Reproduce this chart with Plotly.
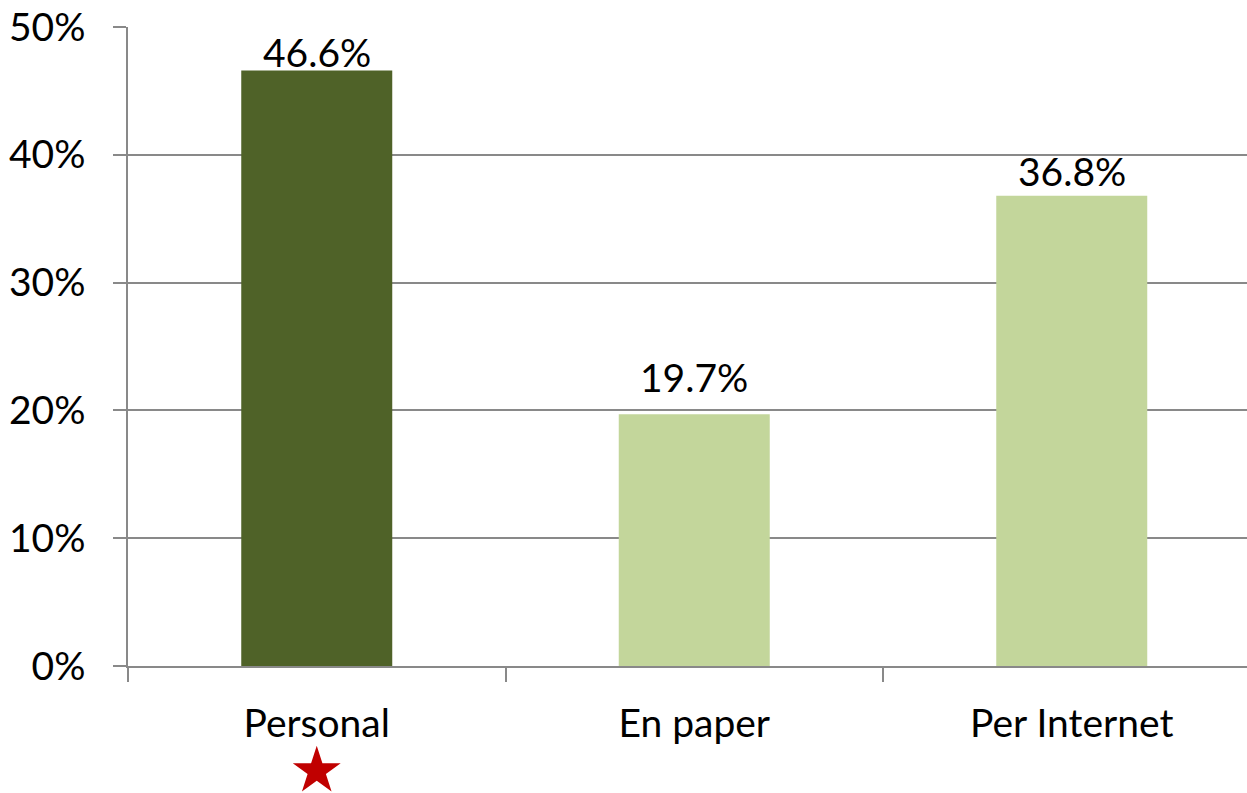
import plotly.graph_objects as go

categories = ["Personal", "En paper", "Per Internet"]
values = [46.6, 19.7, 36.8]
value_labels = ["46.6%", "19.7%", "36.8%"]
bar_colors = ["#4F6228", "#C3D69B", "#C3D69B"]
y_ticks = [0, 10, 20, 30, 40, 50]
y_tick_labels = ["0%", "10%", "20%", "30%", "40%", "50%"]
highlight = ["Personal"]

# style
label_shifts = [-7, 12, 0]
FONT = "Lato"
FS = 39
GRID = "#898989"

W, H = 1247, 793
L, T = 128, 27
ZERO_PX = 666            # pixel row of the 0% line
STAR_PX = 771            # pixel row of the star centre
dom_lo = (H - ZERO_PX) / (H - T)

fig = go.Figure()
fig.add_trace(go.Bar(
    x=categories, y=values, marker=dict(color=bar_colors, line=dict(width=0)),
    width=0.4, hoverinfo="skip", xaxis="x", yaxis="y",
))
fig.add_trace(go.Scatter(
    x=highlight, y=[(H - STAR_PX) / (H - ZERO_PX)] * len(highlight),
    mode="markers", xaxis="x", yaxis="y2",
    marker=dict(symbol="star", size=36, color="#C00000", line=dict(width=0)),
    cliponaxis=False, hoverinfo="skip",
))
for c, v, t, s in zip(categories, values, value_labels, label_shifts):
    fig.add_annotation(x=c, y=v, xref="x", yref="y", text=t, showarrow=False,
                       yanchor="bottom", yshift=s,
                       font=dict(family=FONT, size=FS, color="#000000"))

fig.update_layout(
    width=W, height=H,
    margin=dict(l=L, r=0, t=T, b=0, autoexpand=False),
    paper_bgcolor="white", plot_bgcolor="white",
    showlegend=False, bargap=0.6,
    font=dict(family=FONT, size=FS, color="#000000"),
    xaxis=dict(
        range=[-0.5, -0.5 + (W - L) / 377.5], showgrid=False, automargin=False,
        showline=True, linecolor=GRID, linewidth=1.5,
        ticks="outside", ticklen=14, tickwidth=1.5, tickcolor=GRID,
        tickson="boundaries", ticklabelstandoff=22, anchor="y",
        tickfont=dict(family=FONT, size=FS, color="#000000"),
    ),
    yaxis=dict(
        domain=[dom_lo, 1], anchor="x", automargin=False,
        range=[0, 50], tickvals=y_ticks, ticktext=y_tick_labels,
        showgrid=True, gridcolor=GRID, gridwidth=1.5,
        showline=True, linecolor=GRID, linewidth=1.5,
        ticks="outside", ticklen=13, tickwidth=1.5, tickcolor=GRID,
        ticklabelstandoff=20, zeroline=False,
        tickfont=dict(family=FONT, size=FS, color="#000000"),
    ),
    yaxis2=dict(domain=[0, dom_lo], range=[0, 1], visible=False,
                anchor="x", fixedrange=True, automargin=False),
)
fig.write_html(
    "out.html", config={"displayModeBar": False},
    post_script="document.body.style.margin='0';document.body.style.overflow='hidden';",
)
